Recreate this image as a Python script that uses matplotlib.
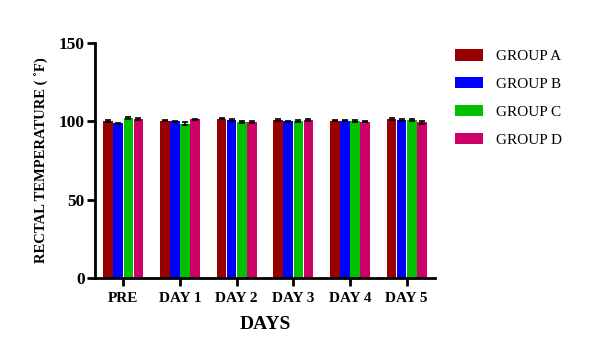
import matplotlib.pyplot as plt
import numpy as np

# data
days = ["PRE", "DAY 1", "DAY 2", "DAY 3", "DAY 4", "DAY 5"]
groups = ["GROUP A", "GROUP B", "GROUP C", "GROUP D"]
group_a = [100.2, 100.4, 101.8, 100.9, 100.4, 101.3]
group_b = [98.7, 99.9, 100.9, 99.9, 100.4, 100.8]
group_c = [101.9, 98.6, 99.6, 100.3, 100.2, 100.8]
group_d = [101.6, 101.2, 99.7, 100.8, 99.8, 99.3]
err_a = [0.6, 0.5, 0.6, 0.5, 0.5, 0.6]
err_b = [0.4, 0.4, 0.5, 0.4, 0.4, 0.5]
err_c = [0.6, 0.8, 0.7, 0.6, 0.5, 0.6]
err_d = [0.5, 0.6, 0.6, 0.5, 0.4, 0.7]
colors = ["#990000", "#0000ff", "#00c000", "#cc0066"]

plt.rcParams['font.family'] = ['Liberation Serif', 'DejaVu Serif']

fig = plt.figure(figsize=(5.96, 3.51), dpi=100)
ax = fig.add_axes([95/596, 1 - 278/351, 340/596, 235/351])

x = np.arange(len(days))
w = 0.17
vals = [group_a, group_b, group_c, group_d]
errs = [err_a, err_b, err_c, err_d]
for i in range(4):
    ax.bar(x + (i - 1.5) * 0.178, vals[i], w, color=colors[i], label=groups[i],
           yerr=errs[i], error_kw=dict(ecolor="black", capsize=2.5, elinewidth=1.2, capthick=1.2))

ax.set_xlim(-0.5, 5.5)
ax.set_ylim(0, 150)
ax.set_yticks([0, 50, 100, 150])
ax.set_xticks(x)
ax.set_xticklabels(days, fontweight="bold", fontsize=11)
for t in ax.get_yticklabels():
    t.set_fontweight("bold")
    t.set_fontsize(12.5)
ax.spines["top"].set_visible(False)
ax.spines["right"].set_visible(False)
ax.spines["left"].set_linewidth(2)
ax.spines["bottom"].set_linewidth(2)
ax.tick_params(width=2, length=6, direction="out")
ax.tick_params(axis="x", pad=4)
ax.tick_params(axis="y", pad=1.5)

ax.set_xlabel("DAYS", fontweight="bold", fontsize=14, labelpad=8)
ax.set_ylabel("RECTAL TEMPERATURE ( \u02daF)", fontweight="bold", fontsize=10.5, labelpad=7)

leg = ax.legend(loc="upper left", bbox_to_anchor=(1.059, 0.975), frameon=False,
                fontsize=11, handlelength=1.85, handleheight=0.8, labelspacing=0.9,
                handletextpad=0.8, borderpad=0, borderaxespad=0)

plt.savefig("out.png", dpi=100)
